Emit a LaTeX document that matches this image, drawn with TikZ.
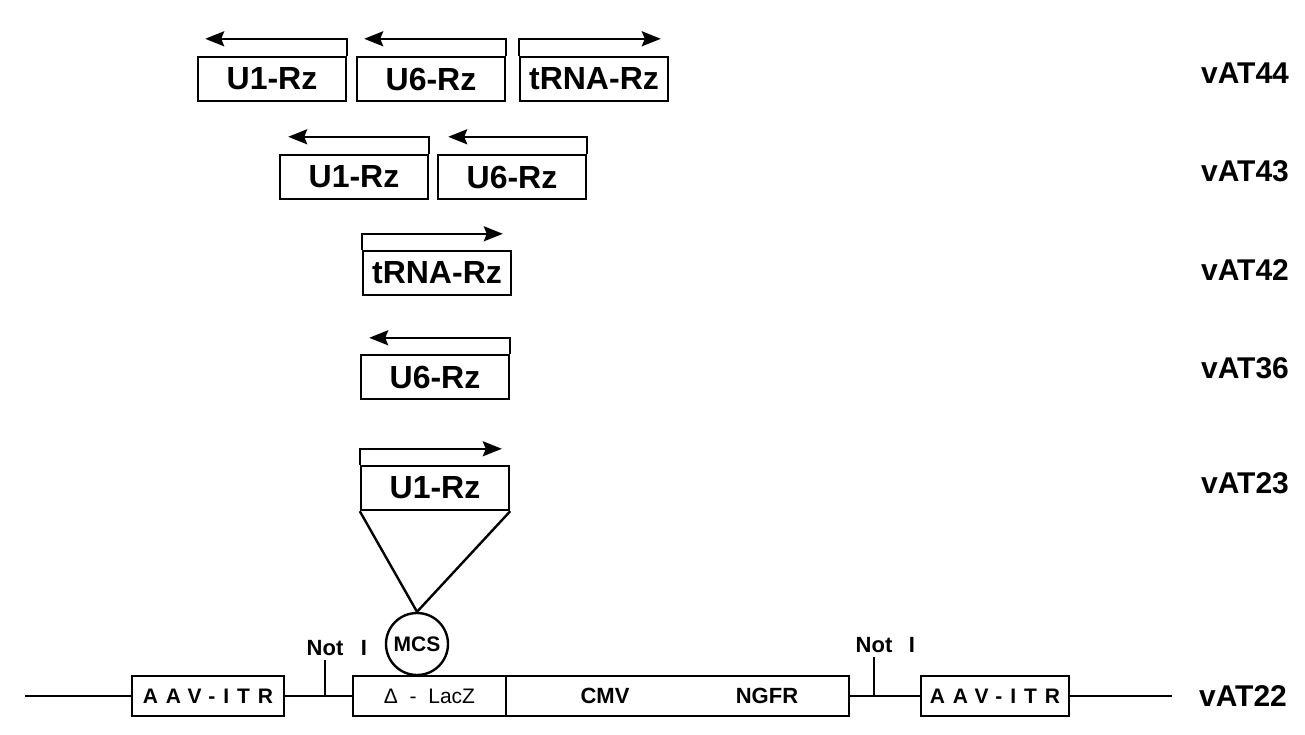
\documentclass[tikz,border=0pt]{standalone}
\usepackage{fontspec}
\setmainfont{Liberation Sans}
\usetikzlibrary{arrows.meta}
\begin{document}
\begin{tikzpicture}[x=1pt, y=-1pt, >={Stealth[length=19pt,width=15pt,inset=3pt]}, line width=2.4pt,
    gene/.style={draw, minimum width=148pt, minimum height=44pt, inner sep=0pt, font=\fontsize{32}{32}\selectfont\bfseries},
    part/.style={draw, minimum height=40pt, inner sep=0pt, font=\fontsize{21}{21}\selectfont\bfseries},
    vec/.style={font=\fontsize{30}{30}\selectfont\bfseries},
    site/.style={font=\fontsize{22}{22}\selectfont\bfseries}]
    \useasboundingbox (0,0) rectangle (1305,735);
    % vAT44
    \node[gene] (u1a) at (272,79) {U1-Rz};
    \node[gene] (u6a) at (431,79) {U6-Rz};
    \node[gene] (ta) at (594,79) {tRNA-Rz};
    \draw[->] (u1a.north east) -- ++(0,-17) -- ++(-142,0);
    \draw[->] (u6a.north east) -- ++(0,-17) -- ++(-142,0);
    \draw[->] (ta.north west) -- ++(0,-17) -- ++(142,0);
    % vAT43
    \node[gene] (u1b) at (354,177) {U1-Rz};
    \node[gene] (u6b) at (512,177) {U6-Rz};
    \draw[->] (u1b.north east) -- ++(0,-17) -- ++(-141,0);
    \draw[->] (u6b.north east) -- ++(0,-17) -- ++(-139,0);
    % vAT42
    \node[gene] (tc) at (437,273) {tRNA-Rz};
    \draw[->] (tc.north west) -- ++(0,-16) -- ++(141,0);
    % vAT36
    \node[gene] (u6d) at (435,377) {U6-Rz};
    \draw[->] (u6d.north east) -- ++(0,-16) -- ++(-141,0);
    % vAT23
    \node[gene] (u1e) at (435,488) {U1-Rz};
    \draw[->] (u1e.north west) -- ++(0,-16) -- ++(142,0);
    % vAT22
    \node[part, minimum width=152pt] (itrl) at (208,696) {\addfontfeature{LetterSpace=38}AAV-ITR};
    \node[part, minimum width=153pt, font=\fontsize{21}{21}\selectfont] (lacz) at (429.5,696) {Δ ~-~ LacZ};
    \node[part, minimum width=343pt] (cmvbox) at (677.5,696) {};
    \node[site] (cmv) at (605,696) {CMV};
    \node[site] (ngfr) at (767,696) {NGFR};
    \node[part, minimum width=148pt] (itrr) at (995,696) {\addfontfeature{LetterSpace=38}AAV-ITR};
    \coordinate (le) at (25,696);
    \coordinate (re) at (1172,696);
    \draw (le) -- (itrl.west);
    \draw (itrl.east) -- (lacz.west);
    \draw (cmvbox.east) -- (itrr.west);
    \draw (itrr.east) -- (re);
    \node[site] (not1) at (325,648) {Not};
    \node[site] (i1) at (364,648) {I};
    \node[site] (not2) at (874,645) {Not};
    \node[site] (i2) at (912,645) {I};
    \draw (not1.south) -- (not1.south |- itrl.east);
    \draw (not2.south) -- (not2.south |- itrr.west);
    \node[circle, draw, minimum size=62pt, inner sep=0pt, font=\fontsize{21}{21}\selectfont\bfseries] (mcs) at (417,644) {MCS};
    \draw (u1e.south west) -- (mcs.north) -- (u1e.south east);
    % labels
    \node[vec] (l44) at (1245,73) {vAT44};
    \node[vec] (l43) at (1245,171) {vAT43};
    \node[vec] (l42) at (1245,270) {vAT42};
    \node[vec] (l36) at (1245,368) {vAT36};
    \node[vec] (l23) at (1245,483) {vAT23};
    \node[vec] (l22) at (1243,696) {vAT22};
\end{tikzpicture}
\end{document}
